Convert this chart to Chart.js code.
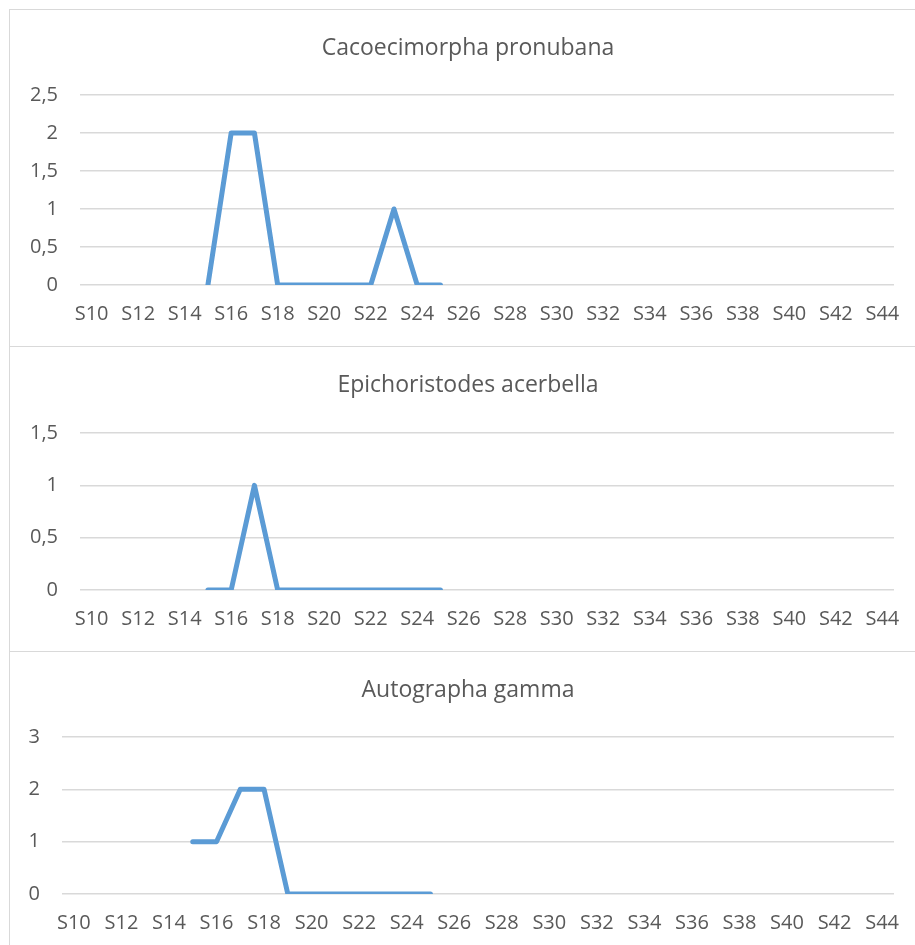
<!DOCTYPE html>
<html>
<head>
<meta charset="utf-8">
<script src="https://cdn.jsdelivr.net/npm/chart.js@4/dist/chart.umd.min.js"></script>
<style>
  html, body { margin: 0; padding: 0; background: #fff; overflow: hidden; width: 915px; height: 945px; }
  .box { position: absolute; left: 9px; width: 917px; border: 1px solid #d9d9d9; box-sizing: border-box; background: #fff; }
  .box canvas { position: absolute; left: 0; top: 0; }
</style>
</head>
<body>
<div class="box" id="b1" style="top:9px;height:338px"><canvas id="c1"></canvas></div>
<div class="box" id="b2" style="top:346px;height:306px"><canvas id="c2"></canvas></div>
<div class="box" id="b3" style="top:651px;height:300px"><canvas id="c3"></canvas></div>
<script>
// semaines S10 .. S44
const weeks = ['S10','S11','S12','S13','S14','S15','S16','S17','S18','S19','S20','S21','S22','S23','S24','S25','S26','S27','S28','S29','S30','S31','S32','S33','S34','S35','S36','S37','S38','S39','S40','S41','S42','S43','S44'];

const titles = ['Cacoecimorpha pronubana', 'Epichoristodes acerbella', 'Autographa gamma'];

// valeurs par semaine (null = pas de relevé)
const pronubana = [null,null,null,null,null,0,2,2,0,0,0,0,0,1,0,0,null,null,null,null,null,null,null,null,null,null,null,null,null,null,null,null,null,null,null];
const acerbella = [null,null,null,null,null,0,0,1,0,0,0,0,0,0,0,0,null,null,null,null,null,null,null,null,null,null,null,null,null,null,null,null,null,null,null];
const gamma     = [null,null,null,null,null,1,1,2,2,0,0,0,0,0,0,0,null,null,null,null,null,null,null,null,null,null,null,null,null,null,null,null,null,null,null];

// axe Y : max et pas
const yMax  = [2.5, 1.5, 3];
const yStep = [0.5, 0.5, 1];

const FONT = "'Open Sans', 'Noto Sans', sans-serif";
const TXT = '#595959';
const GRID = '#d9d9d9';

// placement des zones de tracé (en px dans chaque cadre)
const frames = [
  { id: 'c1', w: 917, h: 338, left: 70, top: 85, bottom: 275 },
  { id: 'c2', w: 917, h: 306, left: 70, top: 86, bottom: 243 },
  { id: 'c3', w: 917, h: 300, left: 52, top: 85, bottom: 242 }
];
const plotRight = 884;
const series = [pronubana, acerbella, gamma];

// recentre le titre sur le cadre entier (comme Excel)
const titleShift = {
  id: 'titleShift',
  afterLayout(chart) {
    const t = chart.titleBlock;
    if (t) { t.left = 32; t.width = t.right - t.left; }
  }
};

frames.forEach((f, i) => {
  const cv = document.getElementById(f.id);
  cv.width = f.w; cv.height = f.h;
  cv.style.width = f.w + 'px'; cv.style.height = f.h + 'px';

  const titleSize = 23;
  const titleCenter = 38;
  const tH = titleSize * 1.2;
  const padTop = titleCenter - tH / 2;
  const padBottom = f.top - (titleCenter + tH / 2);
  const xAxisH = 48;
  const tickSize = 20;

  new Chart(cv, {
    type: 'line',
    data: {
      labels: weeks,
      datasets: [{
        data: series[i],
        borderColor: '#5b9bd5',
        borderWidth: 5,
        borderCapStyle: 'round',
        borderJoinStyle: 'round',
        pointRadius: 0,
        tension: 0,
        spanGaps: false
      }]
    },
    plugins: [titleShift],
    options: {
      responsive: false,
      animation: false,
      layout: {
        padding: { left: 0, right: f.w - plotRight, top: 0, bottom: f.h - f.bottom - xAxisH }
      },
      plugins: {
        legend: { display: false },
        tooltip: { enabled: false },
        title: {
          display: true,
          text: titles[i],
          color: TXT,
          font: { family: FONT, size: titleSize, weight: 'normal', lineHeight: 1.2 },
          padding: { top: padTop, bottom: padBottom }
        }
      },
      scales: {
        x: {
          offset: true,
          grid: { display: false, drawTicks: false },
          border: { display: false },
          afterFit: (s) => { s.height = xAxisH; },
          ticks: {
            autoSkip: false,
            maxRotation: 0,
            color: TXT,
            padding: 17,
            font: { family: FONT, size: tickSize },
            callback: function (v, idx) { return idx % 2 === 0 ? this.getLabelForValue(v) : ''; }
          }
        },
        y: {
          min: 0,
          max: yMax[i],
          afterFit: (s) => { s.width = f.left; },
          grid: { color: GRID, lineWidth: 1.5, drawTicks: false },
          border: { display: false },
          ticks: {
            stepSize: yStep[i],
            color: TXT,
            padding: 22,
            font: { family: FONT, size: tickSize },
            callback: (v) => String(v).replace('.', ',')
          }
        }
      }
    }
  });
});
</script>
</body>
</html>
